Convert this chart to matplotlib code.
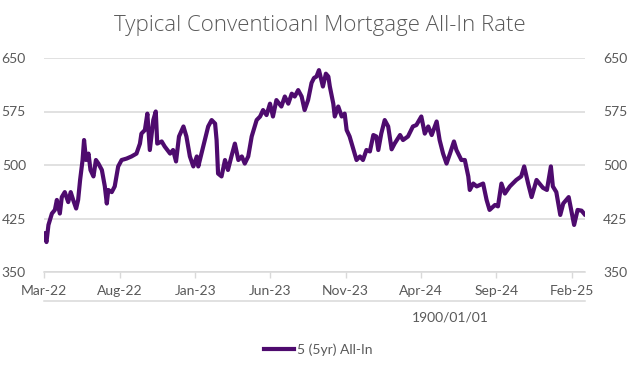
import matplotlib
matplotlib.use("Agg")
import matplotlib.pyplot as plt
import matplotlib.dates as mdates
from matplotlib.lines import Line2D
import pandas as pd

# 5 (5yr) All-In
dates = [
    "2022-03-01", "2022-03-06", "2022-03-10", "2022-03-17", "2022-03-23", "2022-03-27",
    "2022-04-02", "2022-04-06", "2022-04-12", "2022-04-19", "2022-04-24", "2022-04-29",
    "2022-05-05", "2022-05-09", "2022-05-13", "2022-05-18", "2022-05-21", "2022-05-25",
    "2022-05-30", "2022-06-03", "2022-06-09", "2022-06-14", "2022-06-19", "2022-06-26",
    "2022-07-02", "2022-07-06", "2022-07-09", "2022-07-16", "2022-07-22", "2022-07-29",
    "2022-08-05", "2022-08-15", "2022-08-25", "2022-09-04", "2022-09-11", "2022-09-14",
    "2022-09-21", "2022-09-26", "2022-10-01", "2022-10-08", "2022-10-13", "2022-10-16",
    "2022-10-25", "2022-10-31", "2022-11-11", "2022-11-17", "2022-11-23", "2022-11-29",
    "2022-12-08", "2022-12-14", "2022-12-21", "2022-12-28", "2023-01-04", "2023-01-07",
    "2023-01-17", "2023-01-27", "2023-02-03", "2023-02-10", "2023-02-13", "2023-02-16",
    "2023-02-23", "2023-03-02", "2023-03-08", "2023-03-15", "2023-03-22", "2023-03-29",
    "2023-04-05", "2023-04-11", "2023-04-18", "2023-04-25", "2023-05-05", "2023-05-12",
    "2023-05-18", "2023-05-25", "2023-06-01", "2023-06-07", "2023-06-14", "2023-06-24",
    "2023-07-01", "2023-07-08", "2023-07-15", "2023-07-21", "2023-07-28", "2023-08-04",
    "2023-08-10", "2023-08-17", "2023-08-24", "2023-08-29", "2023-09-03", "2023-09-08",
    "2023-09-13", "2023-09-16", "2023-09-22", "2023-09-27", "2023-09-30", "2023-10-07",
    "2023-10-10", "2023-10-17", "2023-10-24", "2023-10-30", "2023-11-03", "2023-11-09",
    "2023-11-15", "2023-11-23", "2023-11-30", "2023-12-06", "2023-12-13", "2023-12-20",
    "2023-12-27", "2024-01-02", "2024-01-06", "2024-01-12", "2024-01-19", "2024-01-26",
    "2024-02-02", "2024-02-08", "2024-02-19", "2024-02-25", "2024-03-06", "2024-03-16",
    "2024-03-23", "2024-04-02", "2024-04-09", "2024-04-16", "2024-04-23", "2024-05-03",
    "2024-05-09", "2024-05-16", "2024-05-23", "2024-05-30", "2024-06-07", "2024-06-12",
    "2024-06-22", "2024-06-29", "2024-07-06", "2024-07-09", "2024-07-16", "2024-07-23",
    "2024-08-05", "2024-08-12", "2024-08-18", "2024-08-29", "2024-09-04", "2024-09-11",
    "2024-09-18", "2024-09-28", "2024-10-11", "2024-10-21", "2024-10-27", "2024-11-04",
    "2024-11-11", "2024-11-21", "2024-12-04", "2024-12-12", "2024-12-20", "2024-12-24",
    "2024-12-31", "2025-01-08", "2025-01-14", "2025-01-25", "2025-01-30", "2025-02-05",
    "2025-02-12", "2025-02-20", "2025-02-26",
]
rate = [
    404, 392, 416, 432, 437, 451,
    432, 455, 462, 448, 462, 451,
    439, 451, 479, 507, 535, 507,
    516, 493, 484, 507, 502, 493,
    470, 446, 465, 462, 470, 498,
    507, 509, 512, 516, 530, 544,
    549, 572, 521, 563, 575, 530,
    533, 526, 516, 521, 505, 540,
    554, 540, 512, 498, 512, 498,
    526, 554, 563, 558, 535, 488,
    484, 507, 493, 512, 530, 507,
    512, 502, 512, 540, 563, 568,
    577, 570, 586, 568, 591, 582,
    596, 586, 600, 596, 605, 596,
    577, 591, 615, 622, 624, 633,
    619, 610, 628, 624, 610, 586,
    568, 582, 568, 572, 549, 540,
    526, 507, 512, 507, 521, 519,
    542, 540, 521, 544, 563, 554,
    522, 530, 542, 535, 540, 554,
    556, 568, 544, 554, 542, 561,
    535, 516, 502, 516, 533, 521,
    507, 507, 484, 465, 474, 470,
    474, 451, 437, 444, 442, 474,
    460, 470, 479, 484, 498, 474,
    455, 479, 468, 465, 498, 470,
    462, 430, 446, 455, 437, 416,
    437, 436, 431,
]
x_ticks = ["2022-03-01", "2022-08-01", "2023-01-01", "2023-06-01",
           "2023-11-01", "2024-04-01", "2024-09-01", "2025-02-01"]
y_ticks = [350, 425, 500, 575, 650]

line_col = "#4E0B6E"
txt_col = "#595959"
grid_col = "#D9D9D9"

plt.rcParams['font.family'] = ['Lato', 'DejaVu Sans']

fig = plt.figure(figsize=(6.3, 3.73), dpi=100)
ax = fig.add_axes([44/630, 1 - 272/373, 541/630, 214/373])

ax.plot(pd.to_datetime(dates), rate, color=line_col, lw=3.0,
        solid_joinstyle='round', label="5 (5yr) All-In", zorder=3)

ax.set_ylim(350, 650)
ax.set_yticks(y_ticks)
ax.set_xlim(pd.Timestamp("2022-03-01"), pd.Timestamp("2025-02-27"))
ax.set_xticks(pd.to_datetime(x_ticks))
ax.xaxis.set_major_formatter(mdates.DateFormatter("%b-%y"))

ax.grid(axis='y', color=grid_col, lw=1.1)
ax.set_axisbelow(True)
for s in ['top', 'left', 'right']:
    ax.spines[s].set_visible(False)
ax.spines['bottom'].set_color(grid_col)
ax.spines['bottom'].set_linewidth(1.1)

ax.tick_params(axis='x', direction='out', length=4.5, width=1, color=grid_col,
               labelcolor=txt_col, labelsize=10, pad=5)
ax.tick_params(axis='y', left=False, right=False, labelleft=True, labelright=True,
               labelcolor=txt_col, labelsize=10, pad=9.5)

# second (empty) category axis below the dates
fig.add_artist(Line2D([44/630, 585/630], [1 - 301/373, 1 - 301/373],
                      color=grid_col, lw=1.1))
fig.text(450/630, 1 - 318/373, "1900/01/01", ha='center', va='center',
         color=txt_col, fontsize=10)

fig.text(320/630, 1 - 26/373, "Typical Conventioanl Mortgage All-In Rate",
         ha='center', va='center', color=txt_col, fontsize=16,
         family=['Open Sans', 'DejaVu Sans'], fontweight='light')

fig.legend(loc='center', bbox_to_anchor=(318/630, 1 - 350/373), frameon=False,
           fontsize=10, handlelength=2.2, handletextpad=0.2, labelcolor=txt_col)

fig.savefig("out.png", dpi=100, facecolor='white')
